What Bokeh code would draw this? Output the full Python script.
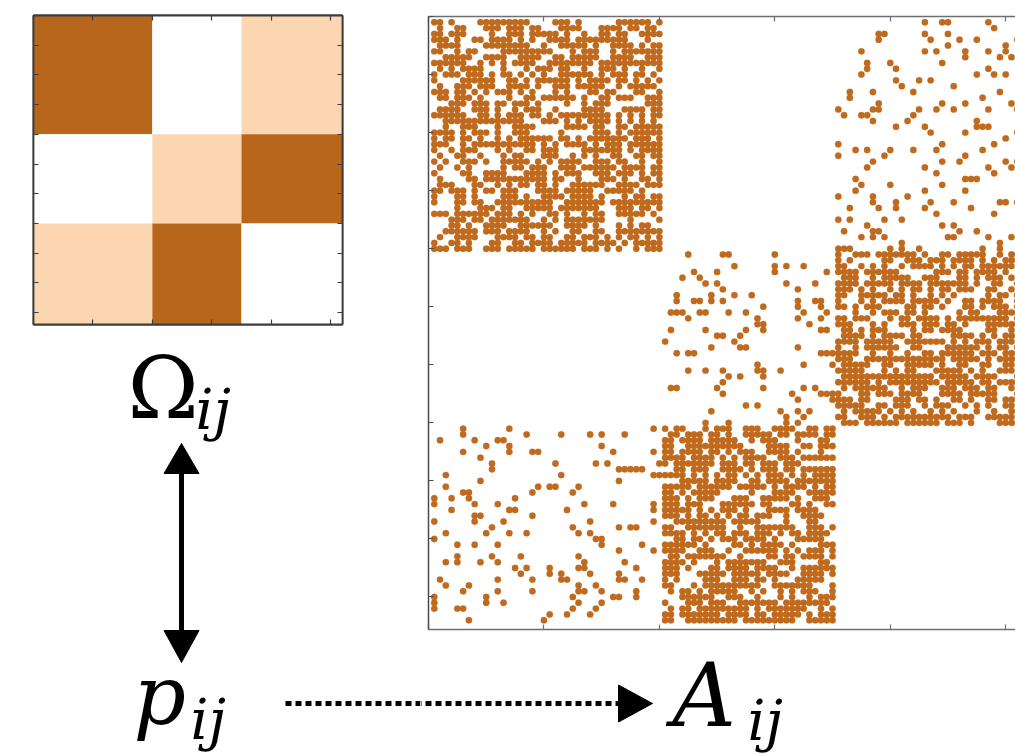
import numpy as np
from bokeh.plotting import figure
from bokeh.models import (Range1d, LinearAxis, SingleIntervalTicker,
                          CustomJSTickFormatter, Label, LinearColorMapper,
                          ColumnDataSource)
from bokeh.layouts import row, column
from bokeh.embed import file_html
from bokeh.resources import INLINE

# ---------------- data ----------------
block_sizes = [40, 30, 34]                 # nodes per community
omega = [[0.65, 0.00, 0.12],               # block connection probabilities
         [0.00, 0.12, 0.65],
         [0.12, 0.65, 0.00]]

# ---------------- derived ----------------
N = int(sum(block_sizes))
edges = np.concatenate([[0], np.cumsum(block_sizes)])
labels = np.repeat(np.arange(len(block_sizes)), block_sizes)
P = np.array(omega)[labels[:, None], labels[None, :]]

# one fixed Bernoulli realisation A_ij ~ p_ij (deterministic integer hash)
ii, jj = np.meshgrid(np.arange(1, N + 1), np.arange(1, N + 1), indexing="ij")
mask32 = np.uint64(0xFFFFFFFF)
h = ((ii.astype(np.uint64) * np.uint64(73856093)) ^
     (jj.astype(np.uint64) * np.uint64(19349663))) & mask32
for _ in range(3):
    h = ((h ^ (h >> np.uint64(16))) * np.uint64(0x45D9F3B)) & mask32
h = h ^ (h >> np.uint64(16))
u = h.astype(np.float64) / 2.0 ** 32
A = u < P
rows_idx, cols_idx = np.nonzero(A)
adj_src = ColumnDataSource(dict(x=cols_idx + 1, y=rows_idx + 1))

heat = dict(left=[], right=[], top=[], bottom=[], val=[])
for bi in range(len(block_sizes)):
    for bj in range(len(block_sizes)):
        heat["left"].append(edges[bj]); heat["right"].append(edges[bj + 1])
        heat["top"].append(edges[bi]); heat["bottom"].append(edges[bi + 1])
        heat["val"].append(omega[bi][bj])
heat_src = ColumnDataSource(heat)

# ---------------- styles ----------------
WHITE = (255, 255, 255)
PEACH = (251, 214, 176)
BROWN = (183, 102, 28)
DOT = "#C06A1E"
VMAX = float(np.max(omega))
VLIGHT = 0.12


def _mix(c1, c2, t):
    return "#%02x%02x%02x" % tuple(int(round(a + (b - a) * t)) for a, b in zip(c1, c2))


palette = []
knee = VLIGHT / VMAX
for k in range(256):
    t = k / 255
    if t <= knee:
        palette.append(_mix(WHITE, PEACH, t / knee))
    else:
        palette.append(_mix(PEACH, BROWN, (t - knee) / (1 - knee)))
cmap = LinearColorMapper(palette=palette, low=0.0, high=VMAX)


def style_axis(ax, interval, color, width=1.5):
    ax.ticker = SingleIntervalTicker(interval=interval, num_minor_ticks=0)
    ax.formatter = CustomJSTickFormatter(code="return ''")
    ax.major_label_text_font_size = "0px"
    ax.major_label_standoff = 0
    ax.major_tick_in = 5
    ax.major_tick_out = 0
    ax.minor_tick_in = 0
    ax.minor_tick_out = 0
    ax.axis_line_color = color
    ax.axis_line_width = width
    ax.major_tick_line_color = color
    ax.major_tick_line_width = 1.2
    return ax


def hide_grid(p):
    for g in p.grid:
        g.visible = False


def no_frame_align(p):
    try:
        p.frame_align = False
    except Exception:
        pass


SERIF = "DejaVu Serif"
BL = 0.36   # Label anchor correction (fraction of font size)


def math_label(p, x, baseline, text, size, italic=True):
    p.add_layout(Label(x=x, y=baseline - BL * size, text=text, text_font=SERIF,
                       text_font_style="italic" if italic else "normal",
                       text_font_size=f"{size}px", text_color="black",
                       text_baseline="alphabetic", text_align="left"))


# ---------------- Omega heatmap ----------------
f1 = figure(width=420, height=330, x_range=Range1d(0, N), y_range=Range1d(N, 0),
            output_backend="svg", toolbar_location=None,
            x_axis_location=None, y_axis_location=None,
            min_border_left=33, min_border_right=78, min_border_top=15, min_border_bottom=6,
            outline_line_color="#3c3c3c", outline_line_width=1.8,
            background_fill_color="white", border_fill_color="white")
no_frame_align(f1)
hide_grid(f1)
f1.quad(left="left", right="right", top="top", bottom="bottom", source=heat_src,
        fill_color={"field": "val", "transform": cmap}, line_color=None)
for loc in ("above", "below"):
    f1.add_layout(style_axis(LinearAxis(), 20, "#3c3c3c", 1.8), loc)
for loc in ("left", "right"):
    f1.add_layout(style_axis(LinearAxis(), 10, "#3c3c3c", 1.8), loc)

# ---------------- left annotation canvas ----------------
f1b = figure(width=420, height=426, x_range=Range1d(0, 420), y_range=Range1d(426, 0),
             output_backend="svg", toolbar_location=None,
             x_axis_location=None, y_axis_location=None, min_border=0,
             outline_line_color=None, background_fill_color="white",
             border_fill_color="white")
no_frame_align(f1b)
hide_grid(f1b)
f1b.segment(x0=[181], y0=[142], x1=[181], y1=[301], line_width=5, line_color="black")
f1b.patches(xs=[[181, 163.5, 198.5], [181, 163.5, 198.5]],
            ys=[[113, 143, 143], [332, 300, 300]],
            fill_color="black", line_color="black", line_width=1)
f1b.segment(x0=[285], y0=[373], x1=[420], y1=[373], line_width=5,
            line_color="black", line_dash="6 4", line_cap="butt")

math_label(f1b, 127, 88, "Ω", 86, italic=False)
math_label(f1b, 195, 99, "ij", 56)
math_label(f1b, 133, 395, "p", 82)
math_label(f1b, 190, 409, "ij", 56)

# ---------------- adjacency matrix ----------------
f2 = figure(width=595, height=634, x_range=Range1d(0, 101.7), y_range=Range1d(105.6, 0),
            output_backend="svg", toolbar_location=None,
            x_axis_location=None, y_axis_location=None,
            min_border_left=8, min_border_right=0, min_border_top=16, min_border_bottom=5,
            outline_line_color=None, background_fill_color="white",
            border_fill_color="white")
no_frame_align(f2)
hide_grid(f2)
f2.scatter(x="x", y="y", source=adj_src, marker="circle", size=6.4,
           fill_color=DOT, line_color=DOT, line_width=0.3)
f2.add_layout(style_axis(LinearAxis(), 20, "#6e6e6e"), "above")
f2.add_layout(style_axis(LinearAxis(), 20, "#6e6e6e"), "below")
f2.add_layout(style_axis(LinearAxis(), 10, "#4a4a4a"), "left")

# ---------------- bottom-right annotation canvas ----------------
f3 = figure(width=595, height=122, x_range=Range1d(0, 595), y_range=Range1d(122, 0),
            output_backend="svg", toolbar_location=None,
            x_axis_location=None, y_axis_location=None, min_border=0,
            outline_line_color=None, background_fill_color="white",
            border_fill_color="white")
no_frame_align(f3)
hide_grid(f3)
f3.segment(x0=[0], y0=[69], x1=[199], y1=[69], line_width=5, line_color="black",
           line_dash="6 4", line_dash_offset=5, line_cap="butt")
f3.patches(xs=[[232, 198, 198]], ys=[[69, 50.5, 87.5]],
           fill_color="black", line_color="black", line_width=1)
math_label(f3, 672, 93, "A", 88) if False else None
math_label(f3, 252, 93, "A", 88)
math_label(f3, 327, 106, "ij", 56)

layout = row(column(f1, f1b, spacing=0), column(f2, f3, spacing=0), spacing=0)

with open("out.html", "w") as fh:
    fh.write(file_html(layout, INLINE, title="Omega and A"))
